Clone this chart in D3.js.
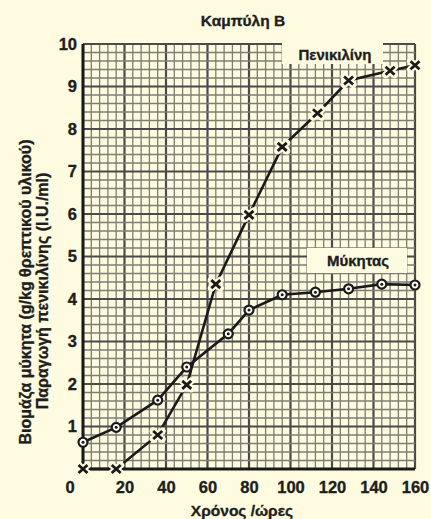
<!DOCTYPE html>
<html>
<head>
<meta charset="utf-8">
<script src="https://cdn.jsdelivr.net/npm/d3@7"></script>
<style>
  body { margin: 0; background: #fffbe0; }
  svg { display: block; }
  text { font-family: "Liberation Sans", Arial, sans-serif; font-weight: bold; fill: #1e1e1e; stroke: #1e1e1e; stroke-width: 0.35px; }
</style>
</head>
<body>
<div id="chart"></div>
<script>
// data
let mykitasTime = [0, 16, 36, 50, 70, 80, 96, 112, 128, 144, 160];
let mykitasValue = [0.63, 0.98, 1.62, 2.4, 3.18, 3.74, 4.1, 4.16, 4.24, 4.35, 4.33];
let penicillinTime = [0, 16, 36, 50, 64, 80, 96, 113, 128, 148, 160];
let penicillinValue = [0, 0, 0.8, 1.98, 4.35, 5.98, 7.58, 8.37, 9.14, 9.37, 9.5];
let xTicks = [20, 40, 60, 80, 100, 120, 140, 160];
let yTicks = [1, 2, 3, 4, 5, 6, 7, 8, 9, 10];

let width = 431, height = 519;
let bg = "#fffbe0";

let svg = d3.select("#chart").append("svg")
	.attr("width", width)
	.attr("height", height);

svg.append("rect").attr("width", width).attr("height", height).attr("fill", bg);

let x = d3.scaleLinear().domain([0, 160]).range([83, 415]);
let y = d3.scaleLinear().domain([0, 10]).range([469, 44]);

// grid - minor and major lines
let grid = svg.append("g");
grid.selectAll(".vminor")
	.data(d3.range(0, 161, 4))
	.enter().append("line")
	.attr("x1", d => x(d)).attr("x2", d => x(d))
	.attr("y1", y(0)).attr("y2", y(10))
	.attr("stroke", d => d % 20 == 0 ? "#4a4a4a" : "#7d7d74")
	.attr("stroke-width", d => d % 20 == 0 ? 2.2 : 1.3);
grid.selectAll(".hminor")
	.data(d3.range(0, 10.01, 0.2))
	.enter().append("line")
	.attr("x1", x(0)).attr("x2", x(160))
	.attr("y1", d => y(d)).attr("y2", d => y(d))
	.attr("stroke", d => Math.abs(d - Math.round(d)) < 0.01 ? "#4a4a4a" : "#7d7d74")
	.attr("stroke-width", d => Math.abs(d - Math.round(d)) < 0.01 ? 2.2 : 1.3);

// label boxes on top of grid
svg.append("rect").attr("x", 282).attr("y", 43).attr("width", 101).attr("height", 21).attr("fill", bg);
svg.append("rect").attr("x", 307).attr("y", 248).attr("width", 100).attr("height", 25).attr("fill", bg);

// axes (thick left and bottom)
svg.append("line").attr("x1", x(0)).attr("x2", x(0)).attr("y1", y(0) + 1.5).attr("y2", y(10))
	.attr("stroke", "#1a1a1a").attr("stroke-width", 3);
svg.append("line").attr("x1", x(0) - 1.5).attr("x2", x(160)).attr("y1", y(0)).attr("y2", y(0))
	.attr("stroke", "#1a1a1a").attr("stroke-width", 3);

let xaxis = d3.axisBottom(x).tickValues(xTicks).tickSize(0).tickPadding(0);
let gx = svg.append("g").attr("transform", "translate(0," + y(0) + ")").call(xaxis);
gx.select(".domain").remove();
gx.selectAll("text").style("font-size", "16.5px").attr("y", 24).attr("dy", null).attr("fill", "#1e1e1e");

let yaxis = d3.axisLeft(y).tickValues(yTicks).tickSize(0).tickPadding(6);
let gy = svg.append("g").attr("transform", "translate(" + x(0) + ",0)").call(yaxis);
gy.select(".domain").remove();
gy.selectAll("text").style("font-size", "16.5px").attr("fill", "#1e1e1e");

svg.append("text").attr("x", 70).attr("y", y(0) + 24).attr("text-anchor", "middle")
	.style("font-size", "16.5px").text("0");

// lines
let penData = penicillinTime.map((t, i) => ({t: t, v: penicillinValue[i]}));
let mykData = mykitasTime.map((t, i) => ({t: t, v: mykitasValue[i]}));
let line = d3.line().x(d => x(d.t)).y(d => y(d.v));

svg.append("path").datum(penData).attr("d", line)
	.attr("fill", "none").attr("stroke", "#1a1a1a").attr("stroke-width", 2.6);
svg.append("path").datum(mykData).attr("d", line)
	.attr("fill", "none").attr("stroke", "#1a1a1a").attr("stroke-width", 2.6);

// X markers with halo
let xm = svg.selectAll(".xmark").data(penData).enter().append("g")
	.attr("transform", d => "translate(" + x(d.t) + "," + y(d.v) + ")");
xm.append("path").attr("d", "M-4.5,-4L4.5,4M4.5,-4L-4.5,4")
	.attr("stroke", bg).attr("stroke-width", 7).attr("stroke-linecap", "round");
xm.append("path").attr("d", "M-4.5,-4L4.5,4M4.5,-4L-4.5,4")
	.attr("stroke", "#1a1a1a").attr("stroke-width", 2.8);

// circle markers
let cm = svg.selectAll(".cmark").data(mykData).enter().append("g")
	.attr("transform", d => "translate(" + x(d.t) + "," + y(d.v) + ")");
cm.append("circle").attr("r", 4.5).attr("fill", "#fffef5").attr("stroke", "#1a1a1a").attr("stroke-width", 2.2);
cm.append("circle").attr("r", 1.5).attr("fill", "#1a1a1a");

// texts
svg.append("text").attr("x", 243).attr("y", 26).attr("text-anchor", "middle")
	.style("font-size", "15.5px").text("Καμπύλη Β");
svg.append("text").attr("x", 335).attr("y", 60).attr("text-anchor", "middle")
	.style("font-size", "15px").text("Πενικιλίνη");
svg.append("text").attr("x", 358).attr("y", 266).attr("text-anchor", "middle")
	.style("font-size", "15px").text("Μύκητας");
svg.append("text").attr("x", 242).attr("y", 516).attr("text-anchor", "middle")
	.style("font-size", "15.5px").text("Χρόνος /ώρες");
svg.append("text").attr("transform", "translate(31,292) rotate(-90)").attr("text-anchor", "middle")
	.style("font-size", "16px").text("Βιομάζα μύκητα (g/kg θρεπτικού υλικού)");
svg.append("text").attr("transform", "translate(48,291) rotate(-90)").attr("text-anchor", "middle")
	.style("font-size", "16px").text("Παραγωγή πενικιλίνης (I.U./ml)");
</script>
</body>
</html>
